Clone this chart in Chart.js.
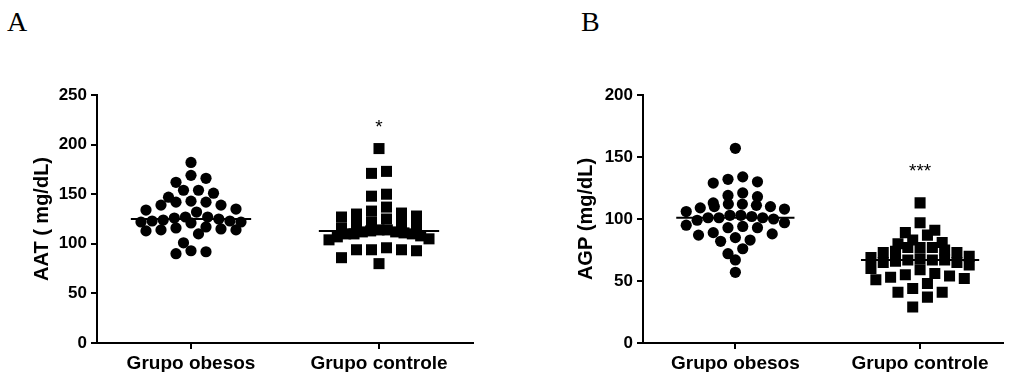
<!DOCTYPE html>
<html>
<head>
<meta charset="utf-8">
<script src="https://cdn.jsdelivr.net/npm/chart.js@4/dist/chart.umd.min.js"></script>
<style>
  body { margin: 0; background: #fff; }
  #wrap { position: relative; width: 1011px; height: 372px; overflow: hidden; }
  canvas { position: absolute; top: 0; }
  .panel-letter { position: absolute; top: 6px; font-family: "Liberation Serif", "Times New Roman", serif; font-size: 28px; color: #000; }
</style>
</head>
<body>
<div id="wrap">
  <div class="panel-letter" style="left:7px">A</div>
  <div class="panel-letter" style="left:581px">B</div>
  <canvas id="chart-a" width="500" height="372" style="left:0"></canvas>
  <canvas id="chart-b" width="511" height="372" style="left:500px"></canvas>
</div>
<script>
const categories = ['Grupo obesos', 'Grupo controle'];

// AAT (mg/dL)
const aatObesos = [182, 169, 166, 162, 154, 154, 151, 147, 142, 142, 143, 139, 139, 135, 134, 132, 127, 127, 126, 125, 124, 123, 123, 122, 122, 121, 117, 116, 115, 114, 114, 113, 110, 101, 93, 92, 90];
const aatControle = [196, 173, 171, 150, 148, 137, 133, 131, 130, 128, 127, 125, 122, 121, 120, 118, 116, 114, 114, 113, 112, 112, 111, 110, 110, 110, 108, 107, 105, 104, 96, 94, 94, 94, 93, 86, 80];
const aatMedians = [125, 113];
const aatStars = ['', '*'];
const aatStarValue = 221;

// AGP (mg/dL)
const agpObesos = [157, 134, 132, 130, 129, 121, 119, 118, 113, 112, 112, 111, 110, 110, 109, 108, 106, 103, 103, 102, 101, 101, 101, 100, 99, 97, 95, 94, 93, 93, 89, 88, 87, 85, 83, 82, 76, 72, 67, 57];
const agpControle = [113, 97, 91, 89, 87, 83, 81, 80, 77, 77, 77, 75, 74, 73, 73, 70, 69, 68, 67, 67, 67, 66, 65, 65, 63, 60, 59, 56, 55, 54, 53, 52, 51, 48, 44, 41, 41, 37, 29];
const agpMedians = [101, 67];
const agpStars = ['', '***'];
const agpStarValue = 141;

const PX_PER_X = 188;
const PLOT_H = 248;

// dot-plot layout: group values into rows, spread each row sideways around the category
function spread(values, pxPerY) {
  const rowH = 10.5, step = 15, maxW = 100;
  const order = values.map((v, i) => i).sort((a, b) => values[b] - values[a]);
  const rows = [];
  order.forEach(i => {
    const row = rows[rows.length - 1];
    if (row && (values[row[0]] - values[i]) * pxPerY <= rowH) row.push(i);
    else rows.push([i]);
  });
  const out = new Array(values.length);
  rows.forEach(row => {
    const n = row.length;
    const s = n > 1 ? Math.min(step, maxW / (n - 1)) : 0;
    // slots from the middle outwards, highest values in the middle
    const slots = [];
    for (let j = 0; j < n; j++) slots.push((j - (n - 1) / 2) * s);
    slots.sort((a, b) => Math.abs(a) - Math.abs(b) || b - a);
    row.forEach((idx, j) => { out[idx] = slots[j] / PX_PER_X; });
  });
  return out;
}

function toPoints(values, center, yMax) {
  const offs = spread(values, PLOT_H / yMax);
  return values.map((v, i) => ({ x: center + offs[i], y: v }));
}

const starPlugin = {
  id: 'stars',
  afterDatasetsDraw(chart, args, opts) {
    const { ctx, scales } = chart;
    ctx.save();
    ctx.fillStyle = '#000';
    ctx.font = '19px "Liberation Sans", Arial, sans-serif';
    ctx.textAlign = 'center';
    ctx.textBaseline = 'middle';
    opts.labels.forEach((s, i) => {
      if (!s) return;
      ctx.fillText(s, scales.x.getPixelForValue(i + 1), scales.y.getPixelForValue(opts.value) + 4);
    });
    ctx.restore();
  }
};

function makePanel(id, cfg) {
  const halfLine = 0.32;
  const medianSets = cfg.medians.map((m, i) => ({
    type: 'line',
    data: [{ x: i + 1 - halfLine, y: m }, { x: i + 1 + halfLine, y: m }],
    borderColor: '#000', borderWidth: 2, pointRadius: 0, showLine: true, order: 0
  }));
  return new Chart(document.getElementById(id), {
    type: 'scatter',
    data: {
      datasets: [
        { data: toPoints(cfg.obesos, 1, cfg.yMax), pointStyle: 'circle', pointRadius: 5.6, backgroundColor: '#000', borderWidth: 0, order: 1 },
        { data: toPoints(cfg.controle, 2, cfg.yMax), pointStyle: 'rect', pointRadius: 7.8, backgroundColor: '#000', borderWidth: 0, order: 1 },
        ...medianSets
      ]
    },
    options: {
      responsive: false,
      animation: false,
      devicePixelRatio: 1,
      events: [],
      layout: { padding: { top: 95, right: cfg.padRight, bottom: 0, left: 0 } },
      plugins: { legend: { display: false }, tooltip: { enabled: false }, stars: { labels: cfg.stars, value: cfg.starValue } },
      scales: {
        x: {
          type: 'linear', min: 0.5, max: cfg.xMax,
          afterBuildTicks: s => { s.ticks = [{ value: 1 }, { value: 2 }]; },
          afterFit: s => { s.height = 29; },
          ticks: { callback: v => categories[v - 1], color: '#000', padding: 3, maxRotation: 0, autoSkip: false,
            font: { family: '"Liberation Sans", Arial, sans-serif', size: 19, weight: 'bold' } },
          grid: { display: true, drawOnChartArea: false, drawTicks: true, tickLength: 6, color: '#000', lineWidth: 2 },
          border: { display: true, color: '#000', width: 2 }
        },
        y: {
          min: 0, max: cfg.yMax,
          afterFit: s => { s.width = cfg.yWidth; },
          ticks: { stepSize: 50, color: '#000', padding: 4,
            font: { family: '"Liberation Sans", Arial, sans-serif', size: 17, weight: 'bold' } },
          grid: { display: true, drawOnChartArea: false, drawTicks: true, tickLength: 6, color: '#000', lineWidth: 2 },
          border: { display: true, color: '#000', width: 2 },
          title: { display: true, text: cfg.title, color: '#000', padding: { top: cfg.titlePad, bottom: 0 },
            font: { family: '"Liberation Sans", Arial, sans-serif', size: 20, weight: 'bold' } }
        }
      }
    },
    plugins: [starPlugin]
  });
}

makePanel('chart-a', {
  obesos: aatObesos, controle: aatControle, medians: aatMedians,
  stars: aatStars, starValue: aatStarValue, yMax: 250, xMax: 2.5,
  title: 'AAT ( mg/dL)', titlePad: 30, yWidth: 97, padRight: 27
});

makePanel('chart-b', {
  obesos: agpObesos, controle: agpControle, medians: agpMedians,
  stars: agpStars, starValue: agpStarValue, yMax: 200, xMax: 2.45,
  title: 'AGP (mg/dL)', titlePad: 74, yWidth: 143, padRight: 1
});
</script>
</body>
</html>
